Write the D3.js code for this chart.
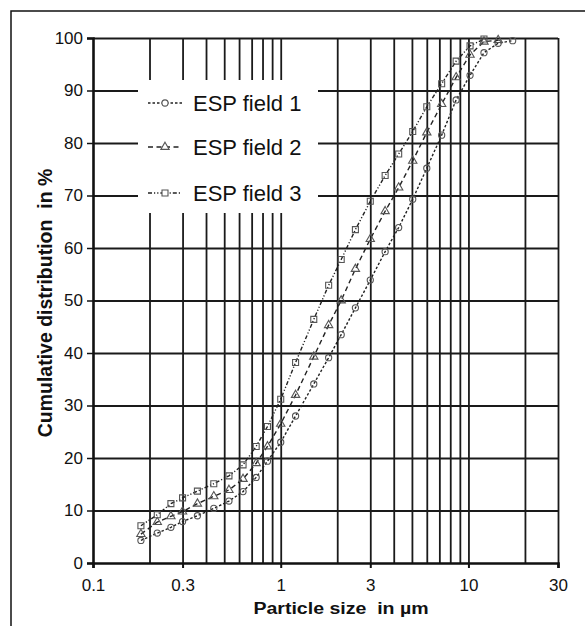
<!DOCTYPE html>
<html>
<head>
<meta charset="utf-8">
<script src="https://cdn.jsdelivr.net/npm/d3@7"></script>
<style>
  body { margin: 0; background: #fff; }
  svg { display: block; font-family: "Liberation Sans", Arial, sans-serif; }
  .grid line { stroke: #1a1a1a; stroke-width: 1.8; }
  .grid path { display: none; }
</style>
</head>
<body>
<svg id="chart" width="585" height="626"></svg>
<script>
// particle sizes (µm) shared by the three series
const sizes = [0.18, 0.22, 0.26, 0.30, 0.36, 0.44, 0.53, 0.63, 0.74, 0.85, 1.0, 1.2, 1.5,
  1.8, 2.1, 2.5, 3.0, 3.6, 4.25, 5.05, 6.0, 7.2, 8.6, 10.2, 12.1, 14.4, 17.2];

// cumulative distribution in %
const field1 = [4.3, 5.7, 6.8, 7.9, 9.0, 10.4, 11.8, 13.6, 16.3, 19.4, 23.0, 28.0, 34.1,
  39.1, 43.5, 48.6, 53.9, 59.3, 63.9, 69.3, 75.2, 81.5, 88.2, 92.9, 97.2, 99.0, 99.5];
const field2 = [5.5, 7.8, 8.9, 9.8, 11.3, 12.7, 13.9, 16.0, 19.0, 22.2, 26.5, 32.0, 39.3,
  45.3, 50.0, 56.0, 61.7, 67.0, 71.5, 76.6, 82.0, 87.4, 92.5, 96.8, 99.3, 99.6];
const field3 = [7.1, 9.2, 11.3, 12.4, 13.7, 15.1, 16.6, 18.7, 22.2, 26.0, 31.2, 38.2, 46.4,
  52.9, 57.8, 63.5, 68.9, 73.8, 77.9, 82.2, 86.9, 91.3, 95.6, 98.5, 99.8];

const seriesNames = ["ESP field 1", "ESP field 2", "ESP field 3"];

const xGridValues = [0.2, 0.3, 0.4, 0.5, 0.6, 0.7, 0.8, 0.9, 1, 2, 3, 4, 5, 6, 7, 8, 9, 10, 20, 30];
const xTickLabels = [0.1, 0.3, 1, 3, 10, 30];
const yTicks = [0, 10, 20, 30, 40, 50, 60, 70, 80, 90, 100];

const MARGIN = { left: 93, top: 38, right: 27, bottom: 63 };
const W = 585, H = 626;
const width = W - MARGIN.left - MARGIN.right;
const height = H - MARGIN.top - MARGIN.bottom;

const svg = d3.select("#chart");

// outer frame (cut off at right and bottom like the scan)
svg.append("rect")
  .attr("x", 11).attr("y", 11)
  .attr("width", 600).attr("height", 640)
  .attr("fill", "none")
  .attr("stroke", "#111")
  .attr("stroke-width", 1.5);

const g = svg.append("g")
  .attr("transform", `translate(${MARGIN.left},${MARGIN.top})`);

const x = d3.scaleLog().domain([0.1, 30]).range([0, width]);
const y = d3.scaleLinear().domain([0, 100]).range([height, 0]);

// grid
g.append("g")
  .attr("class", "grid")
  .attr("transform", `translate(0,${height})`)
  .call(d3.axisBottom(x).tickValues(xGridValues).tickSize(-height).tickFormat(""));

g.append("g")
  .attr("class", "grid")
  .call(d3.axisLeft(y).tickValues(yTicks.slice(1)).tickSize(-width).tickFormat(""));

// legend background hides the grid behind it
const legend = g.append("g")
  .attr("transform", `translate(${138 - MARGIN.left},${80 - MARGIN.top})`);

legend.append("rect")
  .attr("width", 180)
  .attr("height", 133)
  .attr("fill", "#fff");

// axes
const yAxis = g.append("g")
  .call(d3.axisLeft(y).tickValues(yTicks).tickSize(6).tickPadding(4));
yAxis.select(".domain").attr("stroke", "#111").attr("stroke-width", 2.6);
yAxis.selectAll(".tick line").attr("stroke", "#111").attr("stroke-width", 1.5);
yAxis.selectAll("text")
  .attr("fill", "#111")
  .style("font-size", "17px");

const xAxis = g.append("g")
  .attr("transform", `translate(0,${height})`)
  .call(d3.axisBottom(x).tickValues(xTickLabels).tickSize(5).tickPadding(11)
    .tickFormat(d3.format("")));
xAxis.select(".domain").attr("stroke", "#111").attr("stroke-width", 2.6);
xAxis.selectAll(".tick line").attr("stroke", "#111").attr("stroke-width", 2);
xAxis.selectAll("text")
  .attr("fill", "#111")
  .style("font-size", "17px");

// axis titles
svg.append("text")
  .attr("transform", `translate(341,614) scale(1.15,1)`)
  .attr("text-anchor", "middle")
  .style("font-size", "17px")
  .style("font-weight", "bold")
  .style("white-space", "pre")
  .attr("fill", "#111")
  .text("Particle size  in µm");

svg.append("text")
  .attr("transform", `translate(52,303) rotate(-90)`)
  .attr("text-anchor", "middle")
  .style("font-size", "19.5px")
  .style("font-weight", "bold")
  .style("white-space", "pre")
  .attr("fill", "#111")
  .text("Cumulative distribution  in %");

// marker shapes
const symbols = [d3.symbolCircle, d3.symbolTriangle, d3.symbolSquare];
const symbolSizes = [30, 30, 36];
const dashes = ["2.5,2", "5,3.5", "4,2,1.2,2,1.2,2"];
const allSeries = [field1, field2, field3];

const line = d3.line()
  .x(d => x(d[0]))
  .y(d => y(d[1]));

allSeries.forEach((vals, i) => {
  const pts = vals.map((v, j) => [sizes[j], v]);

  g.append("path")
    .datum(pts)
    .attr("d", line)
    .attr("fill", "none")
    .attr("stroke", "#222")
    .attr("stroke-width", 1.4)
    .attr("stroke-dasharray", dashes[i]);

  g.append("g")
    .selectAll("path")
    .data(pts)
    .join("path")
    .attr("transform", d => `translate(${x(d[0])},${y(d[1])})`)
    .attr("d", d3.symbol().type(symbols[i]).size(symbolSizes[i]))
    .attr("fill", "none")
    .attr("stroke", "#555")
    .attr("stroke-width", 1.1);
});

// legend entries
const rowY = [23, 67, 113];
seriesNames.forEach((name, i) => {
  const row = legend.append("g").attr("transform", `translate(0,${rowY[i]})`);
  row.append("line")
    .attr("x1", 10).attr("x2", 44)
    .attr("stroke", "#222")
    .attr("stroke-width", 1.4)
    .attr("stroke-dasharray", dashes[i]);
  row.append("path")
    .attr("transform", "translate(27,0)")
    .attr("d", d3.symbol().type(symbols[i]).size(symbolSizes[i]))
    .attr("fill", "#fff")
    .attr("stroke", "#555")
    .attr("stroke-width", 1.1);
  row.append("text")
    .attr("x", 55)
    .attr("y", 7.8)
    .style("font-size", "22px")
    .attr("fill", "#111")
    .text(name);
});
</script>
</body>
</html>
